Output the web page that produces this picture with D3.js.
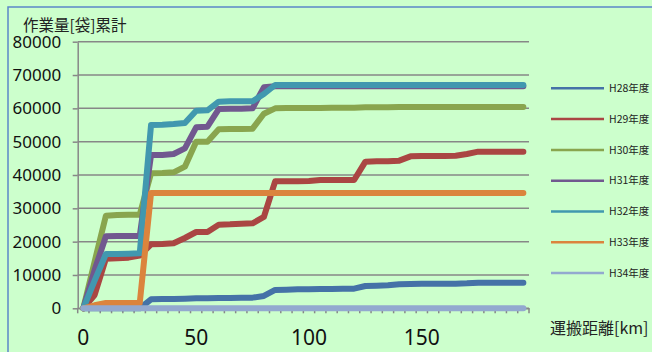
<!DOCTYPE html>
<html>
<head>
<meta charset="utf-8">
<script src="https://cdn.jsdelivr.net/npm/d3@7"></script>
<style>
  body { margin: 0; background: #ccffcc; }
  svg { display: block; }
</style>
</head>
<body>
<script>
const width = 652;
const height = 352;
const plotLeft = 77.7;
const plotRight = 529;
const plotTop = 41.7;
const plotBottom = 308.3;

// distance categories [km]
const distances = d3.range(0, 200, 5);
const xLabels = [0, 50, 100, 150];
const yTicks = [0, 10000, 20000, 30000, 40000, 50000, 60000, 70000, 80000];

const seriesNames = ['H28年度', 'H29年度', 'H30年度', 'H31年度', 'H32年度', 'H33年度', 'H34年度'];
const seriesColors = ['#4572a7', '#aa4643', '#89a54e', '#71588f', '#4198af', '#db843d', '#93a9cf'];

const h28 = [0, 0, 0, 0, 0, 0, 2700, 2800, 2800, 2900, 3000, 3000, 3100, 3100, 3200, 3200, 3700, 5500, 5600, 5700,
             5700, 5800, 5800, 5900, 5900, 6700, 6800, 6900, 7200, 7300, 7400, 7400, 7400, 7400, 7500, 7700, 7700, 7700, 7700, 7700];
const h29 = [0, 4000, 14900, 15000, 15200, 15800, 19200, 19300, 19500, 21100, 22900, 22900, 25100, 25200, 25400, 25500, 27400, 38100, 38100, 38100,
             38200, 38500, 38500, 38500, 38500, 44000, 44100, 44100, 44300, 45600, 45700, 45700, 45700, 45800, 46300, 47000, 47000, 47000, 47000, 47000];
const h30 = [0, 14000, 27800, 28000, 28100, 28100, 40500, 40600, 40800, 42500, 50000, 50000, 53700, 53800, 53800, 53900, 58400, 60000, 60100, 60100,
             60100, 60100, 60200, 60200, 60200, 60300, 60300, 60300, 60400, 60400, 60400, 60400, 60400, 60400, 60400, 60400, 60400, 60400, 60400, 60400];
const h31 = [0, 11500, 21600, 21700, 21700, 21700, 46000, 46000, 46300, 48000, 54300, 54500, 59800, 59900, 59900, 60000, 66300, 66600, 66600, 66600,
             66600, 66600, 66600, 66600, 66600, 66600, 66600, 66600, 66600, 66600, 66600, 66600, 66600, 66600, 66600, 66600, 66600, 66600, 66600, 66600];
const h32 = [0, 8300, 16300, 16300, 16400, 16500, 55000, 55100, 55300, 55600, 59300, 59400, 62000, 62100, 62100, 62100, 64300, 67000, 67000, 67000,
             67000, 67000, 67000, 67000, 67000, 67000, 67000, 67000, 67000, 67000, 67000, 67000, 67000, 67000, 67000, 67000, 67000, 67000, 67000, 67000];
const h33 = [0, 900, 1600, 1600, 1600, 1600, 34600, 34600, 34600, 34600, 34600, 34600, 34600, 34600, 34600, 34600, 34600, 34600, 34600, 34600,
             34600, 34600, 34600, 34600, 34600, 34600, 34600, 34600, 34600, 34600, 34600, 34600, 34600, 34600, 34600, 34600, 34600, 34600, 34600, 34600];
const h34 = distances.map(() => 0);

const seriesValues = [h28, h29, h30, h31, h32, h33, h34];

let svg = d3.select('body')
            .append('svg')
            .attr('width', width)
            .attr('height', height);

// outer frame
svg.append('rect')
   .attr('x', 8)
   .attr('y', 7)
   .attr('width', 700)
   .attr('height', 400)
   .attr('fill', '#ccffcc')
   .attr('stroke', '#5b87c8')
   .attr('stroke-width', 1.5);

let xScale = d3.scaleBand()
               .domain(distances)
               .range([plotLeft, plotRight]);

let yScale = d3.scaleLinear()
               .domain([0, 80000])
               .range([plotBottom, plotTop]);

// horizontal gridlines
svg.append('g')
   .selectAll('line')
   .data(yTicks)
   .enter()
   .append('line')
   .attr('x1', plotLeft)
   .attr('x2', plotRight)
   .attr('y1', d => yScale(d))
   .attr('y2', d => yScale(d))
   .attr('stroke', '#878787')
   .attr('stroke-width', 1.5);

let yAxis = d3.axisLeft(yScale)
              .tickValues(yTicks)
              .tickFormat(d3.format('d'))
              .tickSize(5)
              .tickSizeOuter(0)
              .tickPadding(11.5);
let yG = svg.append('g')
            .attr('transform', `translate(${plotLeft}, 0)`)
            .call(yAxis);
yG.selectAll('path, line').attr('stroke', '#878787').attr('stroke-width', 1.5);
yG.selectAll('text')
  .attr('font-family', '"Noto Sans", sans-serif')
  .attr('font-size', 17)
  .attr('fill', '#111');

// x ticks at category boundaries
let tickPos = distances.map(d => xScale(d)).concat([plotRight]);
svg.append('g')
   .selectAll('line')
   .data(tickPos)
   .enter()
   .append('line')
   .attr('x1', d => d)
   .attr('x2', d => d)
   .attr('y1', plotBottom)
   .attr('y2', plotBottom + 5)
   .attr('stroke', '#878787')
   .attr('stroke-width', 1.5);

let xAxis = d3.axisBottom(xScale)
              .tickValues(xLabels)
              .tickSize(0)
              .tickSizeOuter(0);
let xG = svg.append('g')
            .attr('transform', `translate(0, ${plotBottom})`)
            .call(xAxis);
xG.select('.domain').attr('stroke', '#878787').attr('stroke-width', 1.5);
xG.selectAll('text')
  .attr('y', 37)
  .attr('dy', 0)
  .attr('font-family', '"Noto Sans", sans-serif')
  .attr('font-size', 21)
  .attr('fill', '#111');

// series lines
const bw = xScale.bandwidth();
let line = d3.line()
             .x((d, i) => xScale(distances[i]) + bw / 2)
             .y(d => yScale(d));

svg.append('g')
   .selectAll('path')
   .data(seriesValues)
   .enter()
   .append('path')
   .attr('d', d => line(d))
   .attr('fill', 'none')
   .attr('stroke', (d, i) => seriesColors[i])
   .attr('stroke-width', 6)
   .attr('stroke-linecap', 'round')
   .attr('stroke-linejoin', 'round');

// titles
svg.append('text')
   .attr('x', 23)
   .attr('y', 31)
   .attr('font-family', '"Noto Sans CJK JP", sans-serif')
   .attr('font-size', 15.5)
   .attr('fill', '#222')
   .text('作業量[袋]累計');

svg.append('text')
   .attr('x', 550)
   .attr('y', 334)
   .attr('font-family', '"Noto Sans CJK JP", sans-serif')
   .attr('font-size', 16)
   .attr('fill', '#222')
   .text('運搬距離[km]');

// legend
let legend = svg.append('g')
                .selectAll('g')
                .data(seriesNames)
                .enter()
                .append('g')
                .attr('transform', (d, i) => `translate(551, ${88.3 + i * 30.8})`);
legend.append('line')
      .attr('x1', 0)
      .attr('x2', 53)
      .attr('stroke', (d, i) => seriesColors[i])
      .attr('stroke-width', 2.5);
legend.append('text')
      .attr('x', 58)
      .attr('dy', '0.35em')
      .attr('font-family', '"Noto Sans CJK JP", sans-serif')
      .attr('font-size', 10.5)
      .attr('fill', '#222')
      .text(d => d);
</script>
</body>
</html>
